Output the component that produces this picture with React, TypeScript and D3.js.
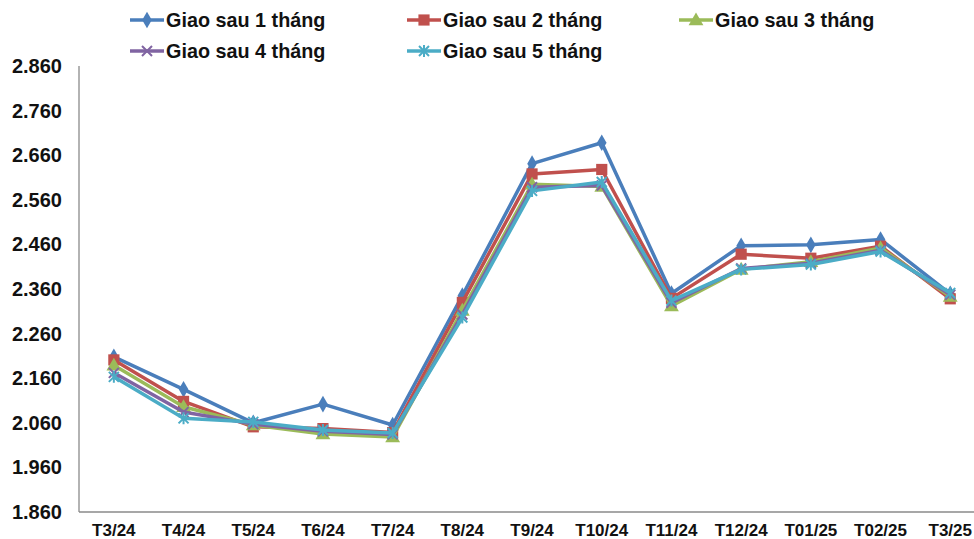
import React from "react";
import * as d3 from "d3";

const months = [
  "T3/24", "T4/24", "T5/24", "T6/24", "T7/24", "T8/24", "T9/24",
  "T10/24", "T11/24", "T12/24", "T01/25", "T02/25", "T3/25",
];

const seriesNames = [
  "Giao sau 1 tháng",
  "Giao sau 2 tháng",
  "Giao sau 3 tháng",
  "Giao sau 4 tháng",
  "Giao sau 5 tháng",
];

const month1 = [2.208, 2.135, 2.060, 2.102, 2.055, 2.345, 2.641, 2.688, 2.350, 2.457, 2.459, 2.471, 2.349];
const month2 = [2.201, 2.108, 2.051, 2.047, 2.038, 2.330, 2.618, 2.628, 2.339, 2.438, 2.429, 2.456, 2.338];
const month3 = [2.189, 2.096, 2.055, 2.035, 2.028, 2.312, 2.595, 2.590, 2.322, 2.404, 2.421, 2.452, 2.343];
const month4 = [2.172, 2.084, 2.057, 2.041, 2.034, 2.303, 2.588, 2.592, 2.329, 2.406, 2.418, 2.447, 2.347];
const month5 = [2.163, 2.070, 2.062, 2.044, 2.037, 2.296, 2.580, 2.600, 2.334, 2.404, 2.415, 2.444, 2.351];

const yTicks = [1.86, 1.96, 2.06, 2.16, 2.26, 2.36, 2.46, 2.56, 2.66, 2.76, 2.86];

const colors = ["#4A7EBB", "#C0504D", "#9BBB59", "#8064A2", "#4BACC6"];
const markers = ["diamond", "square", "triangle", "cross", "star"];

const allSeries = [month1, month2, month3, month4, month5];

const W = 974;
const H = 539;
const left = 79;
const top = 66;
const bottom = 512;
const bandW = 69.7;

const x = d3
  .scaleBand<string>()
  .domain(months)
  .range([left, left + bandW * months.length]);
const y = d3.scaleLinear().domain([1.86, 2.86]).range([bottom, top]);

const fmt = (v: number) => v.toFixed(3);

function Marker({ kind, color, cx, cy }: { kind: string; color: string; cx: number; cy: number }) {
  if (kind === "diamond") {
    const p = d3.symbol(d3.symbolDiamond, 80)();
    return <path d={p ?? ""} transform={`translate(${cx},${cy})`} fill={color} />;
  }
  if (kind === "square") {
    const p = d3.symbol(d3.symbolSquare, 125)();
    return <path d={p ?? ""} transform={`translate(${cx},${cy})`} fill={color} />;
  }
  if (kind === "triangle") {
    const p = d3.symbol(d3.symbolTriangle, 95)();
    return <path d={p ?? ""} transform={`translate(${cx},${cy + 1})`} fill={color} />;
  }
  const r = 5;
  const cross = `M${-r},${-r}L${r},${r}M${-r},${r}L${r},${-r}`;
  const star = kind === "star" ? `${cross}M0,${-r - 1}L0,${r + 1}` : cross;
  return (
    <path
      d={star}
      transform={`translate(${cx},${cy})`}
      stroke={color}
      strokeWidth={2}
      fill="none"
    />
  );
}

export default function App() {
  const line = d3
    .line<number>()
    .x((_, i) => (x(months[i]) ?? 0) + x.bandwidth() / 2)
    .y((v) => y(v));

  const legendItems = [
    { i: 0, lx: 130, ly: 20 },
    { i: 1, lx: 407, ly: 20 },
    { i: 2, lx: 679, ly: 20 },
    { i: 3, lx: 130, ly: 51 },
    { i: 4, lx: 407, ly: 51 },
  ];

  return (
    <svg
      width={W}
      height={H}
      style={{ position: "absolute", left: 0, top: 0, background: "#fff" }}
      fontFamily="'Liberation Sans', Arial, sans-serif"
      fontWeight="bold"
    >
      {/* axes */}
      <line x1={left} x2={left} y1={top} y2={bottom} stroke="#8a8a8a" strokeWidth={1.3} />
      <line x1={left} x2={W + 20} y1={bottom} y2={bottom} stroke="#8a8a8a" strokeWidth={1.3} />

      {yTicks.map((t) => (
        <text key={t} x={62} y={y(t)} dy="0.35em" textAnchor="end" fontSize={20} fill="#111">
          {fmt(t)}
        </text>
      ))}

      {months.map((m) => (
        <text
          key={m}
          x={(x(m) ?? 0) + x.bandwidth() / 2}
          y={530.5}
          dy="0.35em"
          textAnchor="middle"
          fontSize={17}
          fill="#111"
        >
          {m}
        </text>
      ))}

      {/* series lines and markers */}
      {allSeries.map((vals, si) => (
        <g key={si}>
          <path d={line(vals) ?? ""} fill="none" stroke={colors[si]} strokeWidth={3.5} strokeLinejoin="round" />
          {vals.map((v, i) => (
            <Marker
              key={i}
              kind={markers[si]}
              color={colors[si]}
              cx={(x(months[i]) ?? 0) + x.bandwidth() / 2}
              cy={y(v)}
            />
          ))}
        </g>
      ))}

      {/* legend */}
      {legendItems.map(({ i, lx, ly }) => (
        <g key={i}>
          <line x1={lx} x2={lx + 34} y1={ly} y2={ly} stroke={colors[i]} strokeWidth={3.5} />
          <Marker kind={markers[i]} color={colors[i]} cx={lx + 17} cy={ly} />
          <text x={lx + 36} y={ly} dy="0.35em" fontSize={19.8} fill="#111">
            {seriesNames[i]}
          </text>
        </g>
      ))}
    </svg>
  );
}
